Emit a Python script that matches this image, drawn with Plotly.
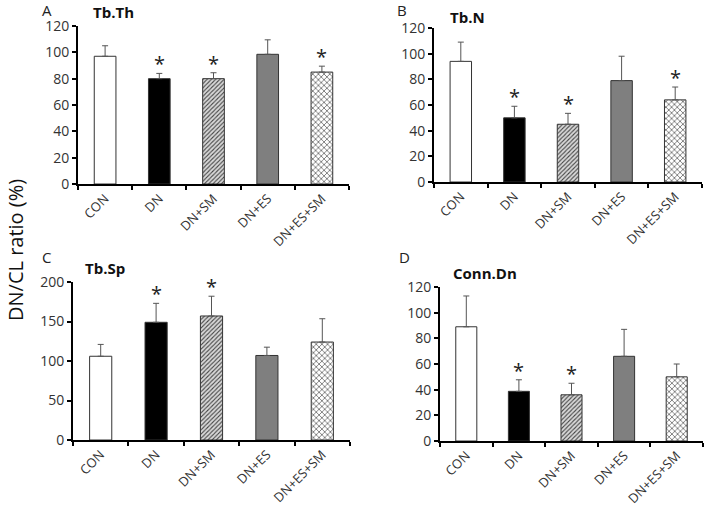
import plotly.graph_objects as go

categories = ["CON", "DN", "DN+SM", "DN+ES", "DN+ES+SM"]

tbth_mean = [97, 80, 80, 98.5, 85]
tbth_err = [8, 4, 4.5, 11, 4.5]
tbth_sig = [False, True, True, False, True]

tbn_mean = [94, 50, 45, 79, 64]
tbn_err = [15, 9, 8.5, 19, 10]
tbn_sig = [False, True, True, False, True]

tbsp_mean = [106, 149, 157, 107, 124]
tbsp_err = [15, 24, 25, 10.5, 29.5]
tbsp_sig = [False, True, True, False, False]

conn_mean = [89, 38.7, 36, 66, 50]
conn_err = [24, 9, 9, 21, 10]
conn_sig = [False, True, True, False, False]

panel_titles = ["Tb.Th", "Tb.N", "Tb.Sp", "Conn.Dn"]
panel_letters = ["A", "B", "C", "D"]
y_ranges = [[0, 120], [0, 120], [0, 200], [0, 120]]
y_dticks = [20, 20, 50, 20]

FONT = "Open Sans"
fills = ["white", "black", "#d9d9d9", "#7f7f7f", "white"]
patterns = ["", "", "/", "", "x"]
pattern_sizes = [4, 4, 3, 4, 4]
pattern_solid = [0.3, 0.3, 0.35, 0.3, 0.3]

panels = [
    (tbth_mean, tbth_err, tbth_sig),
    (tbn_mean, tbn_err, tbn_sig),
    (tbsp_mean, tbsp_err, tbsp_sig),
    (conn_mean, conn_err, conn_sig),
]

W, H = 704, 505


def px(x):
    return x / W


def py(y):
    return 1 - y / H


# plot area boxes in pixels: (left, right, top, bottom)
boxes = [(78, 349, 26, 184), (434, 702, 28, 182), (73, 350, 282, 440), (440, 703, 287, 441)]

fig = go.Figure()
annotations = []
for i, ((mean, err, sig), box) in enumerate(zip(panels, boxes)):
    ax = "" if i == 0 else str(i + 1)
    for j, cat in enumerate(categories):
        fig.add_trace(go.Bar(
            x=[cat], y=[mean[j]],
            xaxis="x" + ax, yaxis="y" + ax,
            marker=dict(
                color=fills[j],
                line=dict(color="#333333", width=1),
                pattern=dict(shape=patterns[j], fgcolor="#444444",
                             bgcolor=fills[j], size=pattern_sizes[j],
                             solidity=pattern_solid[j]),
            ),
            error_y=dict(type="data", symmetric=False, array=[err[j]], arrayminus=[0],
                         color="#555555", thickness=1, width=3),
            showlegend=False, hoverinfo="x+y",
        ))
        if sig[j]:
            annotations.append(dict(
                x=cat, y=mean[j] + err[j], xref="x" + ax, yref="y" + ax,
                text="*", showarrow=False, yanchor="bottom", yshift=-6,
                font=dict(family=FONT, size=20, color="#222"),
            ))
    l, r, t, b = box
    fig.layout["xaxis" + ax] = dict(
        domain=[px(l), min(px(r), 1)], anchor="y" + ax, automargin=False,
        showline=True, linecolor="black", linewidth=2,
        ticks="outside", tickson="boundaries", ticklen=4, tickwidth=2, tickcolor="black",
        tickangle=-45, tickfont=dict(family=FONT, size=13, color="#333"),
        showgrid=False, fixedrange=True,
    )
    fig.layout["yaxis" + ax] = dict(
        domain=[py(b), py(t)], anchor="x" + ax, automargin=False,
        range=y_ranges[i], dtick=y_dticks[i],
        showline=True, linecolor="black", linewidth=2,
        ticks="outside", ticklen=4, tickwidth=2, tickcolor="black",
        tickfont=dict(family=FONT, size=14, color="#333"),
        showgrid=False, zeroline=False, fixedrange=True,
    )

letter_pos = [(40, 10), (395, 10), (40, 257), (397, 257)]
title_pos = [(91, 12), (448, 17), (83, 268), (451, 273)]
for i in range(4):
    lx, ly = letter_pos[i]
    annotations.append(dict(x=px(lx), y=py(ly), xref="paper", yref="paper",
                            text=panel_letters[i], showarrow=False,
                            xanchor="left", yanchor="middle",
                            font=dict(family=FONT, size=15, color="#222")))
    tx, ty = title_pos[i]
    annotations.append(dict(x=px(tx), y=py(ty), xref="paper", yref="paper",
                            text="<b>" + panel_titles[i] + "</b>", showarrow=False,
                            xanchor="left", yanchor="middle",
                            font=dict(family=FONT, size=15, color="#111")))

annotations.append(dict(x=px(15), y=py(250), xref="paper", yref="paper",
                        text="DN/CL ratio (%)", textangle=-90, showarrow=False,
                        xanchor="center", yanchor="middle",
                        font=dict(family=FONT, size=20, color="#111")))

fig.update_layout(
    template="none",
    width=W, height=H, margin=dict(l=0, r=0, t=0, b=0, autoexpand=False),
    paper_bgcolor="white", plot_bgcolor="white",
    bargap=0.6, annotations=annotations,
)

fig.write_html("out.html", config={"displayModeBar": False},
               post_script="document.body.style.margin = '0px';")
